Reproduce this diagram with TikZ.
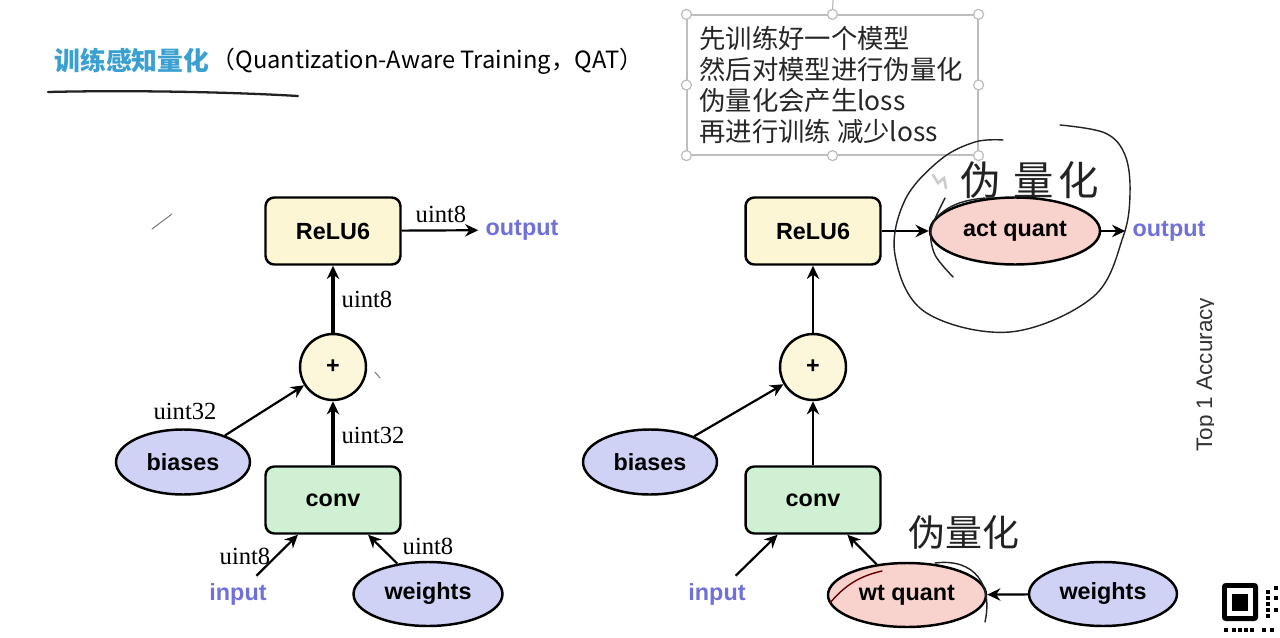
\documentclass[tikz,border=0pt]{standalone}
\usepackage{fontspec}
\setmainfont{Liberation Sans}
\newfontfamily\cjk{Noto Sans CJK SC}
\newfontfamily\serifnum{Liberation Serif}
\usetikzlibrary{arrows.meta,shapes.geometric}
\definecolor{reluY}{HTML}{FCF6D4}
\definecolor{plusY}{HTML}{FCF7DA}
\definecolor{convG}{HTML}{CFF0D2}
\definecolor{ellB}{HTML}{CFD1F5}
\definecolor{pinkQ}{HTML}{F8D2CD}
\definecolor{ioB}{HTML}{6F70D9}
\definecolor{titleB}{HTML}{3AA0D2}
\definecolor{boxG}{HTML}{BDBDBD}
\definecolor{penC}{HTML}{222222}
\newcommand{\labfont}{\fontsize{13.3pt}{15pt}\selectfont\bfseries}
\newcommand{\typfont}{\serifnum\fontsize{14pt}{16pt}\selectfont}
\tikzset{
  nodebox/.style={draw, line width=1.4pt, rounded corners=5pt, minimum width=2.7cm, minimum height=1.34cm, font=\labfont},
  relubox/.style={nodebox, fill=reluY},
  convbox/.style={nodebox, fill=convG},
  opnode/.style={circle, draw, line width=1.4pt, fill=plusY, minimum size=1.32cm, inner sep=0pt, font=\labfont},
  ell/.style={ellipse, draw, line width=1.4pt, inner sep=0pt, font=\labfont},
  dtype/.style={font=\typfont, inner sep=0pt},
  io/.style={text=ioB, font=\labfont, inner sep=4pt},
  arr/.style={-{Stealth[length=7.5pt,width=7pt]}, line width=1.25pt},
  thickarr/.style={-{Stealth[length=7.5pt,width=7pt]}, line width=1.9pt},
  handle/.style={circle, draw=boxG, fill=white, line width=0.7pt, minimum size=0.2cm, inner sep=0pt},
  pen/.style={draw=penC, line width=0.8pt, line cap=round, line join=round},
}
\begin{document}
\begin{tikzpicture}[x=0.02cm, y=-0.02cm]
\useasboundingbox (0,0) rectangle (1280,638);
\fill[white] (0,0) rectangle (1280,638);

% ---------- title ----------
\node[anchor=west, inner sep=0pt, font=\cjk\fontsize{14.7pt}{16pt}\selectfont\bfseries, text=titleB] (title) at (54,61) {训练感知量化};
\node[anchor=west, inner sep=0pt, font=\cjk\fontsize{13.5pt}{16pt}\selectfont] (subtitle) at ([xshift=1pt]title.east) {（Quantization-Aware Training，QAT）};
\draw[pen, line width=1.3pt] (48,92) .. controls (130,90) and (230,92) .. (298,96);

% ---------- text box ----------
\node[draw=boxG, line width=0.7pt, minimum width=5.82cm, minimum height=2.8cm, inner sep=0pt] (tbox) at (832.5,85) {};
\node[anchor=north west, align=left, inner sep=0pt, font=\cjk\fontsize{15pt}{17.6pt}\selectfont, text=black!85] (tlines) at (699,26)
  {先训练好一个模型\\然后对模型进行伪量化\\伪量化会产生loss\\再进行训练 减少loss};
\coordinate (rot) at (833,0);
\draw[boxG, line width=0.7pt] (tbox.north) -- (rot);
\foreach \a/\n in {north west/1, north/2, north east/3, west/4, east/5, south west/6, south/7, south east/8}
  \node[handle] (h\n) at (tbox.\a) {};

% ---------- left diagram ----------
\node[relubox] (relu1) at (333,231) {ReLU6};
\node[opnode] (plus1) at (333,367) {+};
\node[convbox] (conv1) at (333,500) {conv};
\node[ell, fill=ellB, minimum width=2.68cm, minimum height=1.3cm] (bias1) at (183,462) {biases};
\node[ell, fill=ellB, minimum width=2.98cm, minimum height=1.28cm] (wts1) at (428,594) {weights};
\node[io] (in1) at (238,594) {input};
\node[io] (out1) at (522,230) {output};

\draw[thickarr] (plus1) -- (relu1);
\draw[thickarr] (conv1) -- (plus1);
\draw[arr] (bias1) -- (plus1);
\draw[arr] (in1) -- (conv1);
\draw[arr] (wts1) -- (conv1);
\draw[arr] (relu1) -- (out1);

\node[dtype] (t1) at (441,214) {uint8};
\node[dtype] (t2) at (367,299) {uint8};
\node[dtype] (t3) at (185,411) {uint32};
\node[dtype] (t4) at (373,435) {uint32};
\node[dtype] (t5) at (245,556) {uint8};
\node[dtype] (t6) at (428,546) {uint8};

% ---------- right diagram ----------
\node[relubox] (relu2) at (813,231) {ReLU6};
\node[ell, fill=pinkQ, minimum width=3.4cm, minimum height=1.34cm] (act) at (1015,231) {act quant};
\node[io] (out2) at (1169,231) {output};
\node[opnode] (plus2) at (813,367) {+};
\node[convbox] (conv2) at (813,500) {conv};
\node[ell, fill=ellB, minimum width=2.68cm, minimum height=1.3cm] (bias2) at (650,462) {biases};
\node[io] (in2) at (717,594) {input};
\node[ell, fill=pinkQ, minimum width=3.16cm, minimum height=1.28cm] (wtq) at (907,595) {wt quant};
\node[ell, fill=ellB, minimum width=2.96cm, minimum height=1.28cm] (wts2) at (1103,594) {weights};

\draw[arr] (plus2) -- (relu2);
\draw[arr] (conv2) -- (plus2);
\draw[arr] (bias2) -- (plus2);
\draw[arr] (in2) -- (conv2);
\draw[arr] (wtq) -- (conv2);
\draw[arr] (wts2) -- (wtq);
\draw[arr] (relu2) -- (act);
\draw[arr] (act) -- (out2);

% ---------- handwriting ----------
\draw[pen] plot[smooth, tension=0.6] coordinates {(1060,125) (1105,133) (1125,155) (1130,193) (1123,237) (1093,297) (1010,332) (925,312) (895,255) (905,200) (940,160) (975,142) (1003,140)};
\draw[pen] plot[smooth] coordinates {(945,198) (931,230) (935,255) (953,277)};
\draw[pen] (937,217) .. controls (950,204) and (965,200) .. (985,198);
\node[inner sep=0pt, font=\cjk\fontsize{23pt}{24pt}\selectfont, text=penC] (hw1) at (1030,180) {伪\hspace{7pt}量\hspace{3pt}化};
\node[inner sep=0pt, font=\cjk\fontsize{21pt}{22pt}\selectfont, text=penC] (hw2) at (964,532) {伪量化};
\draw[pen] (935,563) .. controls (975,558) and (993,585) .. (985,622);
\draw[pen, draw=red!40!black] (830,603) .. controls (845,585) and (860,576) .. (882,571);
\draw[gray, line width=0.6pt, line cap=round] (152,229) -- (172,214);
\draw[gray, line width=0.6pt, line cap=round] (375,372) -- (380,378);
\draw[gray!40, line width=1.5pt, line cap=round] (933,175) -- (938,183) -- (944,178) -- (946,188);

% ---------- right edge fragments ----------
\begin{scope}
  \clip (1180,290) rectangle (1213,470);
  \node[rotate=90, anchor=base west, inner sep=0pt, font=\fontsize{12.8pt}{13pt}\selectfont, text=black!80] (acc) at (1212,452) {Top 1 Accuracy};
\end{scope}
\fill[black, rounded corners=2pt] (1222,583) rectangle (1258,621);
\fill[white] (1227,588) rectangle (1253,616);
\fill[black] (1232,594) rectangle (1248,611);
\foreach \yy in {590,596,602,608,614} \fill[black] (1266,\yy) rectangle (1270,\yy+4);
\foreach \yy in {586,596,608} \fill[black] (1274,\yy) rectangle (1278,\yy+4);
\foreach \xx in {1224,1232,1238,1244,1250,1262,1270} \fill[black] (\xx,628) rectangle (\xx+4,632);
\end{tikzpicture}
\end{document}
